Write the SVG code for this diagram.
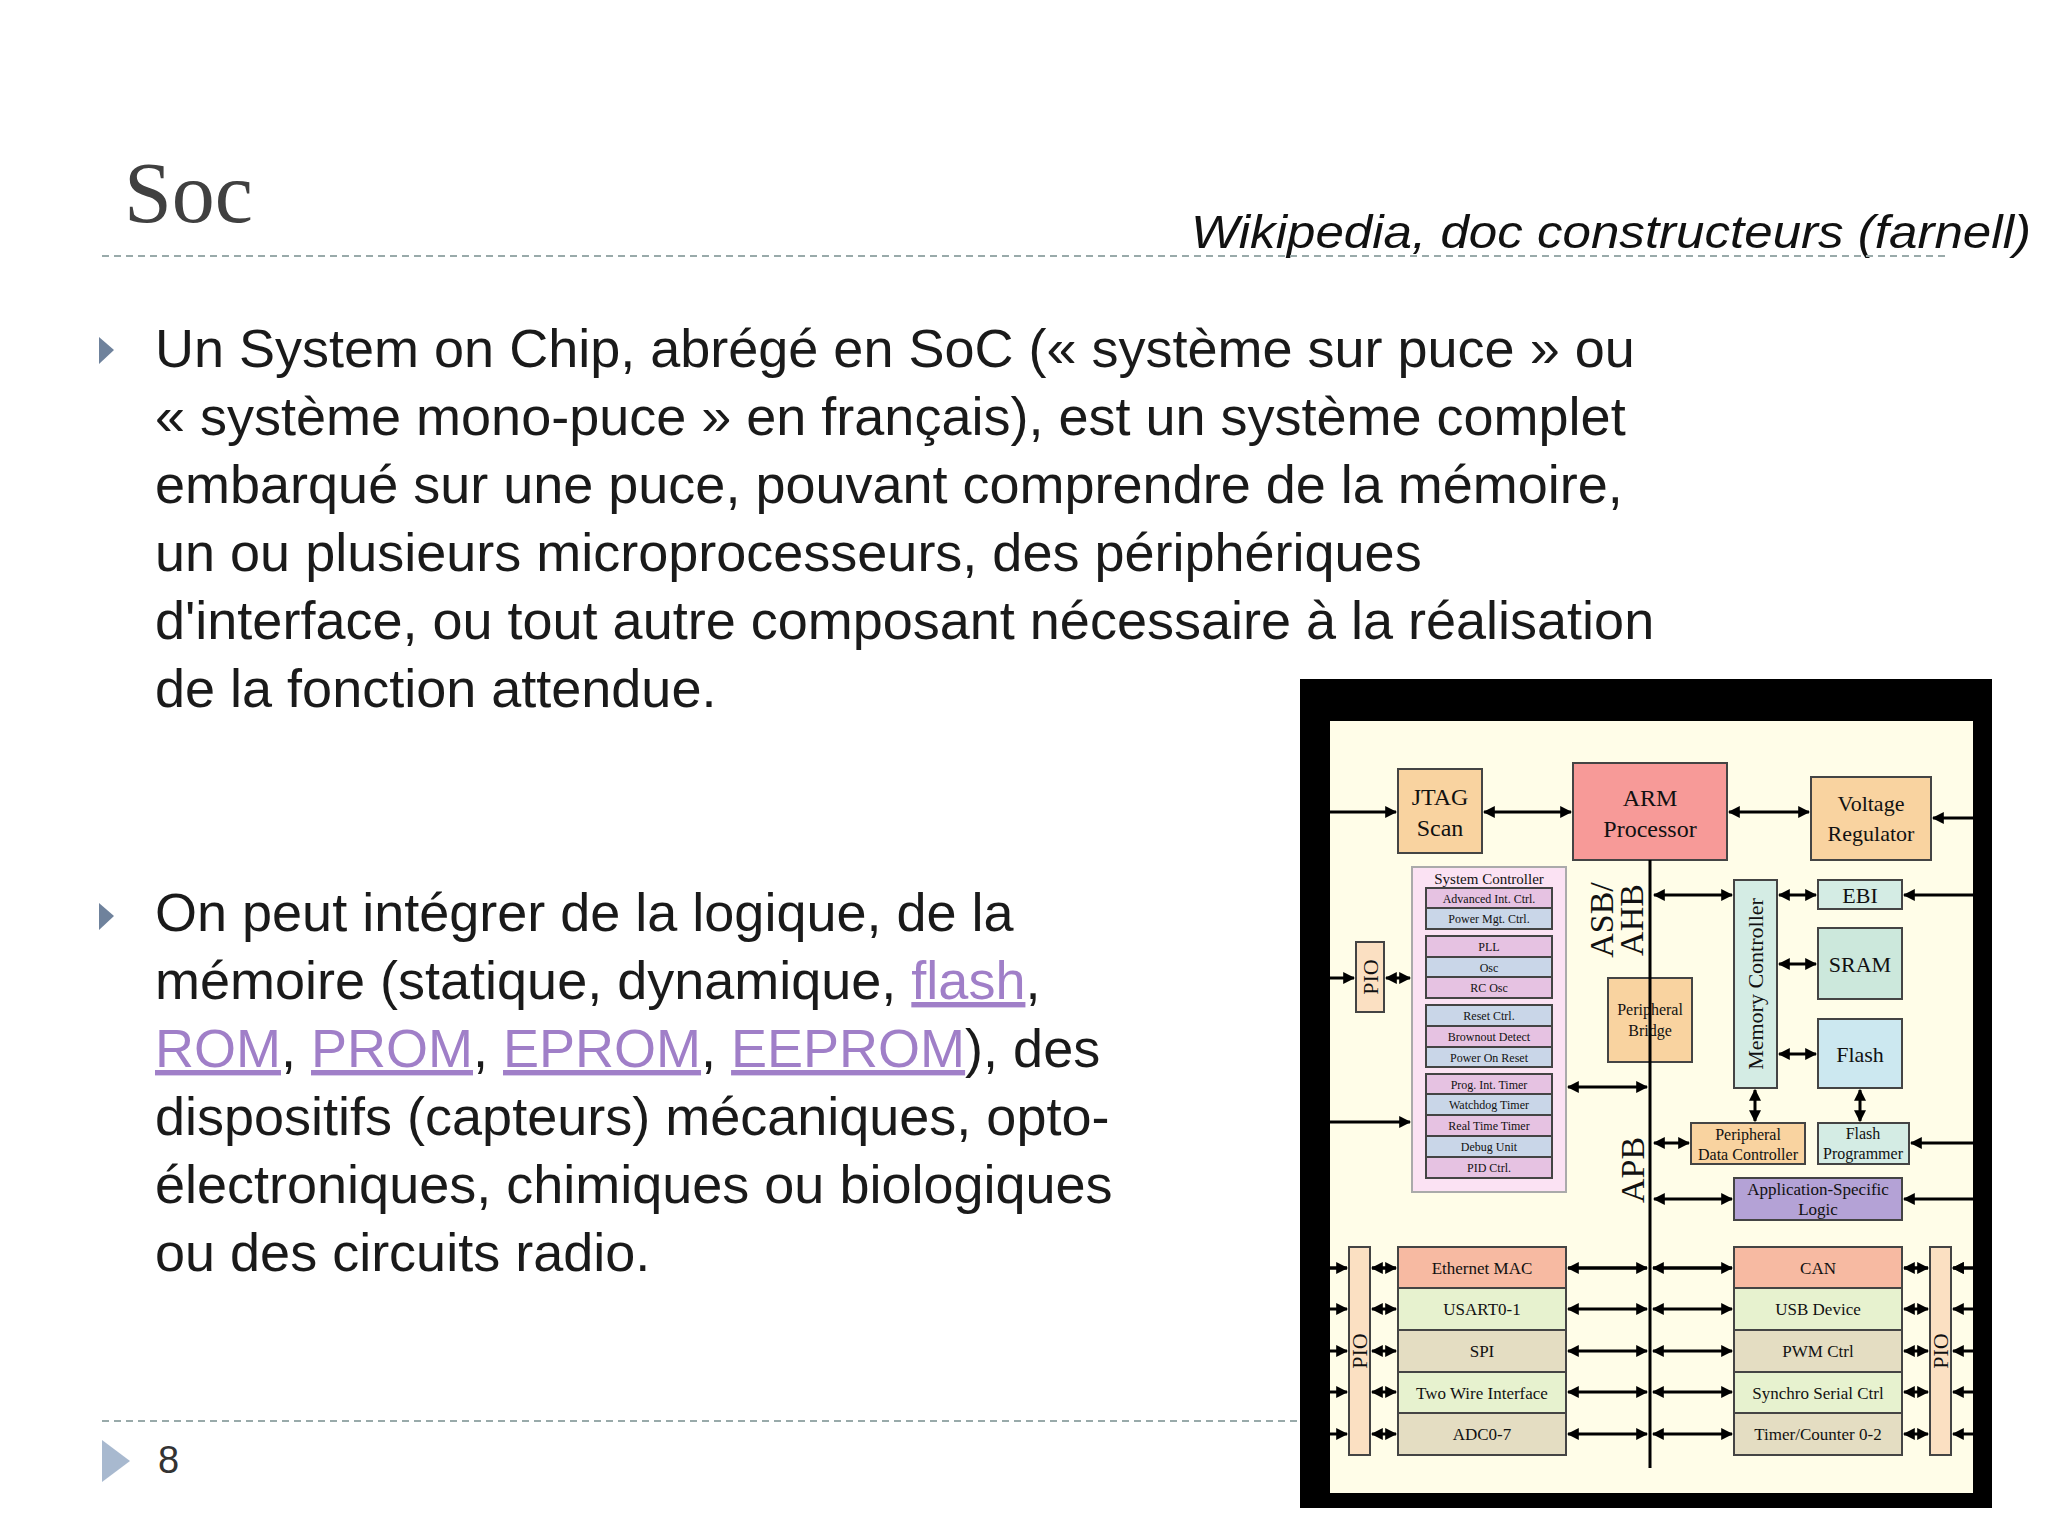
<svg xmlns="http://www.w3.org/2000/svg" width="2048" height="1536" viewBox="0 0 2048 1536">
<defs>
<style>
.t{font-family:"Liberation Sans",Arial,sans-serif;font-size:54px;fill:#1a1a1a}
.lk{fill:#a07fc8;text-decoration:underline}
.d{font-family:"Liberation Serif","Times New Roman",serif;fill:#111;text-anchor:middle}
.b{stroke:#444;stroke-width:2}
.c{stroke:#000;stroke-width:3;fill:none}
</style>
<marker id="a" viewBox="0 0 10 10" refX="9" refY="5" markerWidth="4" markerHeight="4" orient="auto-start-reverse"><path d="M0,0L10,5L0,10z" fill="#000"/></marker>
</defs>
<rect width="2048" height="1536" fill="#fff"/>
<text x="124" y="222" font-family="Liberation Serif,serif" font-size="86" fill="#404040">Soc</text>
<text x="1191" y="248" font-family="Liberation Sans,sans-serif" font-style="italic" font-size="46" fill="#111" textLength="840" lengthAdjust="spacingAndGlyphs">Wikipedia, doc constructeurs (farnell)</text>
<line x1="102" y1="256" x2="1946" y2="256" stroke="#9aa" stroke-width="2" stroke-dasharray="7,5"/>
<line x1="102" y1="1421" x2="1300" y2="1421" stroke="#9aa" stroke-width="2" stroke-dasharray="7,5"/>
<path d="M99,337L114,350L99,364z" fill="#6f829c"/>
<path d="M99,903L114,916L99,930z" fill="#6f829c"/>
<path d="M102,1440L130,1461L102,1482z" fill="#a8b9cf"/>
<text x="158" y="1473" font-family="Liberation Sans,sans-serif" font-size="38" fill="#333">8</text>
<g class="t">
<text x="155" y="367">Un System on Chip, abrégé en SoC (« système sur puce » ou</text>
<text x="155" y="435">« système mono-puce » en français), est un système complet</text>
<text x="155" y="503">embarqué sur une puce, pouvant comprendre de la mémoire,</text>
<text x="155" y="571">un ou plusieurs microprocesseurs, des périphériques</text>
<text x="155" y="639">d'interface, ou tout autre composant nécessaire à la réalisation</text>
<text x="155" y="707">de la fonction attendue.</text>
<text x="155" y="931">On peut intégrer de la logique, de la</text>
<text x="155" y="999">mémoire (statique, dynamique, <tspan class="lk">flash</tspan>,</text>
<text x="155" y="1067"><tspan class="lk">ROM</tspan>, <tspan class="lk">PROM</tspan>, <tspan class="lk">EPROM</tspan>, <tspan class="lk">EEPROM</tspan>), des</text>
<text x="155" y="1135">dispositifs (capteurs) mécaniques, opto-</text>
<text x="155" y="1203">électroniques, chimiques ou biologiques</text>
<text x="155" y="1271">ou des circuits radio.</text>
</g>
<rect x="1300" y="679" width="692" height="829" fill="#000"/>
<rect x="1330" y="721" width="643" height="772" fill="#fffde8"/>
<g id="jtag"><rect class="b" x="1398" y="769" width="84" height="84" fill="#f9d3a0"/><text class="d" x="1440" y="805" font-size="24">JTAG</text><text class="d" x="1440" y="836" font-size="24">Scan</text></g>
<g id="arm"><rect class="b" x="1573" y="763" width="154" height="97" fill="#f79a98"/><text class="d" x="1650" y="806" font-size="24">ARM</text><text class="d" x="1650" y="837" font-size="24">Processor</text></g>
<g id="volt"><rect class="b" x="1811" y="777" width="120" height="83" fill="#f9d3a0"/><text class="d" x="1871" y="811" font-size="22">Voltage</text><text class="d" x="1871" y="841" font-size="22">Regulator</text></g>
<g id="sysctrl"><rect x="1412" y="867" width="154" height="325" fill="#fbe2f3" stroke="#aaa" stroke-width="2"/><text class="d" x="1489" y="884" font-size="15">System Controller</text>
<g font-size="12">
<rect class="b" x="1426" y="888" width="126" height="20" fill="#e6c2e2"/><text class="d" x="1489" y="903">Advanced Int. Ctrl.</text>
<rect class="b" x="1426" y="908" width="126" height="21" fill="#c9d6e8"/><text class="d" x="1489" y="923">Power Mgt. Ctrl.</text>
<rect class="b" x="1426" y="936" width="126" height="21" fill="#e6c2e2"/><text class="d" x="1489" y="951">PLL</text>
<rect class="b" x="1426" y="957" width="126" height="20" fill="#c9d6e8"/><text class="d" x="1489" y="972">Osc</text>
<rect class="b" x="1426" y="977" width="126" height="21" fill="#e6c2e2"/><text class="d" x="1489" y="992">RC Osc</text>
<rect class="b" x="1426" y="1005" width="126" height="21" fill="#c9d6e8"/><text class="d" x="1489" y="1020">Reset Ctrl.</text>
<rect class="b" x="1426" y="1026" width="126" height="21" fill="#e6c2e2"/><text class="d" x="1489" y="1041">Brownout Detect</text>
<rect class="b" x="1426" y="1047" width="126" height="20" fill="#c9d6e8"/><text class="d" x="1489" y="1062">Power On Reset</text>
<rect class="b" x="1426" y="1074" width="126" height="20" fill="#e6c2e2"/><text class="d" x="1489" y="1089">Prog. Int. Timer</text>
<rect class="b" x="1426" y="1094" width="126" height="21" fill="#c9d6e8"/><text class="d" x="1489" y="1109">Watchdog Timer</text>
<rect class="b" x="1426" y="1115" width="126" height="21" fill="#e6c2e2"/><text class="d" x="1489" y="1130">Real Time Timer</text>
<rect class="b" x="1426" y="1136" width="126" height="21" fill="#c9d6e8"/><text class="d" x="1489" y="1151">Debug Unit</text>
<rect class="b" x="1426" y="1157" width="126" height="21" fill="#e6c2e2"/><text class="d" x="1489" y="1172">PID Ctrl.</text>
</g></g>
<g id="pio1"><rect class="b" x="1356" y="942" width="28" height="70" fill="#fbe0c2"/><text class="d" x="0" y="0" font-size="22" transform="translate(1378,977) rotate(-90)">PIO</text></g>
<g id="bridge"><rect class="b" x="1608" y="978" width="84" height="84" fill="#f9d3a0"/><text class="d" x="1650" y="1015" font-size="16">Peripheral</text><text class="d" x="1650" y="1036" font-size="16">Bridge</text></g>
<g id="memctrl"><rect class="b" x="1734" y="880" width="43" height="208" fill="#d4ece4"/><text class="d" font-size="22" transform="translate(1763,984) rotate(-90)">Memory Controller</text></g>
<g id="ebi"><rect class="b" x="1818" y="880" width="84" height="29" fill="#d4ece4"/><text class="d" x="1860" y="903" font-size="22">EBI</text></g>
<g id="sram"><rect class="b" x="1818" y="928" width="84" height="71" fill="#cce8dc"/><text class="d" x="1860" y="972" font-size="22">SRAM</text></g>
<g id="flash"><rect class="b" x="1818" y="1019" width="84" height="69" fill="#cce8f0"/><text class="d" x="1860" y="1062" font-size="22">Flash</text></g>
<g id="pdc"><rect class="b" x="1691" y="1123" width="114" height="41" fill="#f9d3a0"/><text class="d" x="1748" y="1140" font-size="16">Peripheral</text><text class="d" x="1748" y="1160" font-size="16">Data Controller</text></g>
<g id="fprog"><rect class="b" x="1818" y="1123" width="91" height="41" fill="#d4ece4"/><text class="d" x="1863" y="1139" font-size="16">Flash</text><text class="d" x="1863" y="1159" font-size="16">Programmer</text></g>
<g id="asl"><rect class="b" x="1734" y="1178" width="168" height="42" fill="#b4a2d6"/><text class="d" x="1818" y="1195" font-size="17">Application-Specific</text><text class="d" x="1818" y="1215" font-size="17">Logic</text></g>
<text class="d" font-size="34" transform="translate(1623,920) rotate(-90)"><tspan x="0" dy="-10">ASB/</tspan><tspan x="0" dy="30">AHB</tspan></text>
<text class="d" font-size="34" transform="translate(1644,1170) rotate(-90)">APB</text>
<g id="left-periph" font-size="17">
<rect class="b" x="1398" y="1247" width="168" height="41" fill="#f7baa2"/><text class="d" x="1482" y="1274">Ethernet MAC</text>
<rect class="b" x="1398" y="1288" width="168" height="42" fill="#e7f2cf"/><text class="d" x="1482" y="1315">USART0-1</text>
<rect class="b" x="1398" y="1330" width="168" height="42" fill="#e4ddc2"/><text class="d" x="1482" y="1357">SPI</text>
<rect class="b" x="1398" y="1372" width="168" height="41" fill="#e7f2cf"/><text class="d" x="1482" y="1399">Two Wire Interface</text>
<rect class="b" x="1398" y="1413" width="168" height="42" fill="#e4ddc2"/><text class="d" x="1482" y="1440">ADC0-7</text>
</g>
<g id="right-periph" font-size="17">
<rect class="b" x="1734" y="1247" width="168" height="41" fill="#f7baa2"/><text class="d" x="1818" y="1274">CAN</text>
<rect class="b" x="1734" y="1288" width="168" height="42" fill="#e7f2cf"/><text class="d" x="1818" y="1315">USB Device</text>
<rect class="b" x="1734" y="1330" width="168" height="42" fill="#e4ddc2"/><text class="d" x="1818" y="1357">PWM Ctrl</text>
<rect class="b" x="1734" y="1372" width="168" height="41" fill="#e7f2cf"/><text class="d" x="1818" y="1399">Synchro Serial Ctrl</text>
<rect class="b" x="1734" y="1413" width="168" height="42" fill="#e4ddc2"/><text class="d" x="1818" y="1440">Timer/Counter 0-2</text>
</g>
<g id="pio2"><rect class="b" x="1349" y="1247" width="21" height="208" fill="#fbe0c2"/><text class="d" font-size="22" transform="translate(1367,1351) rotate(-90)">PIO</text></g>
<g id="pio3"><rect class="b" x="1930" y="1247" width="21" height="208" fill="#fbe0c2"/><text class="d" font-size="22" transform="translate(1948,1351) rotate(-90)">PIO</text></g>
<g id="connectors" class="c">
<line x1="1650" y1="860" x2="1650" y2="1468"/>
<line x1="1330" y1="812" x2="1396" y2="812" marker-end="url(#a)"/>
<line x1="1484" y1="812" x2="1571" y2="812" marker-start="url(#a)" marker-end="url(#a)"/>
<line x1="1729" y1="812" x2="1809" y2="812" marker-start="url(#a)" marker-end="url(#a)"/>
<line x1="1973" y1="818" x2="1933" y2="818" marker-end="url(#a)"/>
<line x1="1330" y1="978" x2="1354" y2="978" marker-end="url(#a)"/>
<line x1="1386" y1="978" x2="1410" y2="978" marker-start="url(#a)" marker-end="url(#a)"/>
<line x1="1330" y1="1122" x2="1410" y2="1122" marker-end="url(#a)"/>
<line x1="1568" y1="1087" x2="1647" y2="1087" marker-start="url(#a)" marker-end="url(#a)"/>
<line x1="1654" y1="895" x2="1732" y2="895" marker-start="url(#a)" marker-end="url(#a)"/>
<line x1="1779" y1="895" x2="1816" y2="895" marker-start="url(#a)" marker-end="url(#a)"/>
<line x1="1973" y1="895" x2="1904" y2="895" marker-end="url(#a)"/>
<line x1="1779" y1="964" x2="1816" y2="964" marker-start="url(#a)" marker-end="url(#a)"/>
<line x1="1779" y1="1054" x2="1816" y2="1054" marker-start="url(#a)" marker-end="url(#a)"/>
<line x1="1755" y1="1090" x2="1755" y2="1121" marker-start="url(#a)" marker-end="url(#a)"/>
<line x1="1860" y1="1090" x2="1860" y2="1121" marker-start="url(#a)" marker-end="url(#a)"/>
<line x1="1654" y1="1143" x2="1689" y2="1143" marker-start="url(#a)" marker-end="url(#a)"/>
<line x1="1973" y1="1143" x2="1911" y2="1143" marker-end="url(#a)"/>
<line x1="1654" y1="1199" x2="1732" y2="1199" marker-start="url(#a)" marker-end="url(#a)"/>
<line x1="1973" y1="1199" x2="1904" y2="1199" marker-end="url(#a)"/>
<g id="rows">
<path d="M1330,1268h17M1372,1268h24M1568,1268h79M1653,1268h79M1904,1268h24M1973,1268h-20" marker-end="url(#a)"/>
</g>
</g>
<g id="bus-rows" class="c">
<g><line x1="1330" y1="1268" x2="1347" y2="1268" marker-end="url(#a)"/><line x1="1372" y1="1268" x2="1396" y2="1268" marker-start="url(#a)" marker-end="url(#a)"/><line x1="1568" y1="1268" x2="1647" y2="1268" marker-start="url(#a)" marker-end="url(#a)"/><line x1="1653" y1="1268" x2="1732" y2="1268" marker-start="url(#a)" marker-end="url(#a)"/><line x1="1904" y1="1268" x2="1928" y2="1268" marker-start="url(#a)" marker-end="url(#a)"/><line x1="1973" y1="1268" x2="1953" y2="1268" marker-end="url(#a)"/></g>
<g><line x1="1330" y1="1309" x2="1347" y2="1309" marker-end="url(#a)"/><line x1="1372" y1="1309" x2="1396" y2="1309" marker-start="url(#a)" marker-end="url(#a)"/><line x1="1568" y1="1309" x2="1647" y2="1309" marker-start="url(#a)" marker-end="url(#a)"/><line x1="1653" y1="1309" x2="1732" y2="1309" marker-start="url(#a)" marker-end="url(#a)"/><line x1="1904" y1="1309" x2="1928" y2="1309" marker-start="url(#a)" marker-end="url(#a)"/><line x1="1973" y1="1309" x2="1953" y2="1309" marker-end="url(#a)"/></g>
<g><line x1="1330" y1="1351" x2="1347" y2="1351" marker-end="url(#a)"/><line x1="1372" y1="1351" x2="1396" y2="1351" marker-start="url(#a)" marker-end="url(#a)"/><line x1="1568" y1="1351" x2="1647" y2="1351" marker-start="url(#a)" marker-end="url(#a)"/><line x1="1653" y1="1351" x2="1732" y2="1351" marker-start="url(#a)" marker-end="url(#a)"/><line x1="1904" y1="1351" x2="1928" y2="1351" marker-start="url(#a)" marker-end="url(#a)"/><line x1="1973" y1="1351" x2="1953" y2="1351" marker-end="url(#a)"/></g>
<g><line x1="1330" y1="1392" x2="1347" y2="1392" marker-end="url(#a)"/><line x1="1372" y1="1392" x2="1396" y2="1392" marker-start="url(#a)" marker-end="url(#a)"/><line x1="1568" y1="1392" x2="1647" y2="1392" marker-start="url(#a)" marker-end="url(#a)"/><line x1="1653" y1="1392" x2="1732" y2="1392" marker-start="url(#a)" marker-end="url(#a)"/><line x1="1904" y1="1392" x2="1928" y2="1392" marker-start="url(#a)" marker-end="url(#a)"/><line x1="1973" y1="1392" x2="1953" y2="1392" marker-end="url(#a)"/></g>
<g><line x1="1330" y1="1434" x2="1347" y2="1434" marker-end="url(#a)"/><line x1="1372" y1="1434" x2="1396" y2="1434" marker-start="url(#a)" marker-end="url(#a)"/><line x1="1568" y1="1434" x2="1647" y2="1434" marker-start="url(#a)" marker-end="url(#a)"/><line x1="1653" y1="1434" x2="1732" y2="1434" marker-start="url(#a)" marker-end="url(#a)"/><line x1="1904" y1="1434" x2="1928" y2="1434" marker-start="url(#a)" marker-end="url(#a)"/><line x1="1973" y1="1434" x2="1953" y2="1434" marker-end="url(#a)"/></g>
</g>
</svg>
